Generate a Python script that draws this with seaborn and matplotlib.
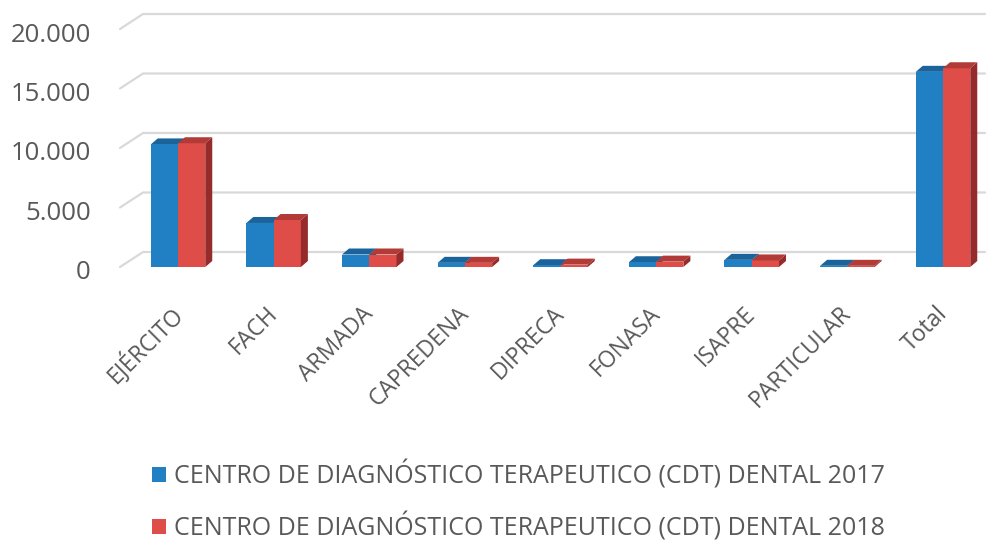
import numpy as np
import pandas as pd
import seaborn as sns
import matplotlib
matplotlib.use("Agg")
import matplotlib.pyplot as plt
from matplotlib.patches import Polygon, Patch
from matplotlib.lines import Line2D
from matplotlib.transforms import IdentityTransform, ScaledTranslation

categories = ["EJÉRCITO", "FACH", "ARMADA", "CAPREDENA", "DIPRECA", "FONASA",
              "ISAPRE", "PARTICULAR", "Total"]
series_names = ["CENTRO DE DIAGNÓSTICO TERAPEUTICO (CDT) DENTAL 2017",
                "CENTRO DE DIAGNÓSTICO TERAPEUTICO (CDT) DENTAL 2018"]
values_2017 = [10300, 3700, 1050, 350, 150, 400, 600, 100, 16400]
values_2018 = [10400, 3950, 1050, 350, 200, 450, 550, 100, 16700]
ytick_values = [0, 5000, 10000, 15000, 20000]
ytick_labels = ["0", "5.000", "10.000", "15.000", "20.000"]

front_colors = ["#2180C3", "#DF4D49"]
top_colors = ["#1A639B", "#B23A37"]
side_colors = ["#175A8C", "#962B2B"]
text_color = "#595959"
grid_color = "#D9D9D9"

df = pd.DataFrame({
    "cat": categories * 2,
    "serie": [series_names[0]] * len(categories) + [series_names[1]] * len(categories),
    "val": values_2017 + values_2018,
})

sns.set_style("white")
plt.rcParams["font.family"] = ["Open Sans", "DejaVu Sans"]

W, H = 991, 544
fig = plt.figure(figsize=(W / 100, H / 100), dpi=100)
# axes in pixel units (front plane)
ax_l, ax_r, ax_b, ax_t = 120, 962, 267, 29
ax = fig.add_axes([ax_l / W, 1 - ax_b / H, (ax_r - ax_l) / W, (ax_b - ax_t) / H])

sns.barplot(data=df, x="cat", y="val", hue="serie", order=categories,
            hue_order=series_names, palette=front_colors, width=0.57,
            gap=0, saturation=1, ax=ax, legend=False, zorder=3,
            linewidth=0)

x0c, x8c = 178, 943
unit = (x8c - x0c) / 8
ax.set_xlim((ax_l - x0c) / unit, (ax_r - x0c) / unit)
ax.set_ylim(0, 20000)
for s in ax.spines.values():
    s.set_visible(False)
ax.set_xlabel("")
ax.set_ylabel("")
ax.set_yticks(ytick_values)
ax.set_yticklabels(ytick_labels, fontsize=18.5, color=text_color)
ax.tick_params(axis="y", length=0, pad=21)
for lab in ax.get_yticklabels():
    lab.set_transform(lab.get_transform() + ScaledTranslation(0, -3 / 100, fig.dpi_scale_trans))
ax.set_xticks(range(len(categories)))
ax.set_xticklabels(categories, fontsize=16.5, color=text_color, rotation=45,
                   ha="right", rotation_mode="anchor")
ax.tick_params(axis="x", length=0, pad=25)
for lab in ax.get_xticklabels():
    lab.set_transform(lab.get_transform() + ScaledTranslation(-8 / 100, 0, fig.dpi_scale_trans))

fig.canvas.draw()

# back wall gridlines (display pixels, y up)
gdx, gdy = 23, 15
back_right = 985
for v in ytick_values:
    _, yd = ax.transData.transform((0, v))
    xl = ax.transAxes.transform((0, 0))[0]
    line = Line2D([xl, xl + gdx, back_right], [yd, yd + gdy, yd + gdy],
                  color=grid_color, lw=1.6, transform=IdentityTransform(), zorder=1)
    fig.add_artist(line)

# 3D faces of bars
ddx, ddy = 7, 6
n = len(categories)
for i, bar in enumerate(ax.patches[: 2 * n]):
    k = i // n
    bar.set_clip_on(False)
    bb = bar.get_window_extent()
    x0, x1, y0, y1 = bb.x0, bb.x1, bb.y0, bb.y1
    z = 2.5 if k == 0 else 4
    top = Polygon([(x0, y1), (x1, y1), (x1 + ddx, y1 + ddy), (x0 + ddx, y1 + ddy)],
                  closed=True, facecolor=top_colors[k], edgecolor="none",
                  transform=IdentityTransform(), zorder=z)
    side = Polygon([(x1, y0), (x1, y1), (x1 + ddx, y1 + ddy), (x1 + ddx, y0 + ddy)],
                   closed=True, facecolor=side_colors[k], edgecolor="none",
                   transform=IdentityTransform(), zorder=z)
    fig.add_artist(side)
    fig.add_artist(top)
    bar.remove()
    bar.set_zorder(3)
    fig.add_artist(bar)
    bar.set_transform(ax.transData)
    bar.set_clip_on(False)

handles = [Patch(facecolor=c, edgecolor="none") for c in front_colors]
leg = fig.legend(handles, series_names, loc="upper left",
                 bbox_to_anchor=(152 / W, 1 - 460 / H), frameon=False,
                 fontsize=18, handlelength=0.55, handleheight=0.55,
                 handletextpad=0.35, labelspacing=0.95, borderpad=0, borderaxespad=0)
for t in leg.get_texts():
    t.set_color(text_color)

fig.savefig("out.png", dpi=100)
